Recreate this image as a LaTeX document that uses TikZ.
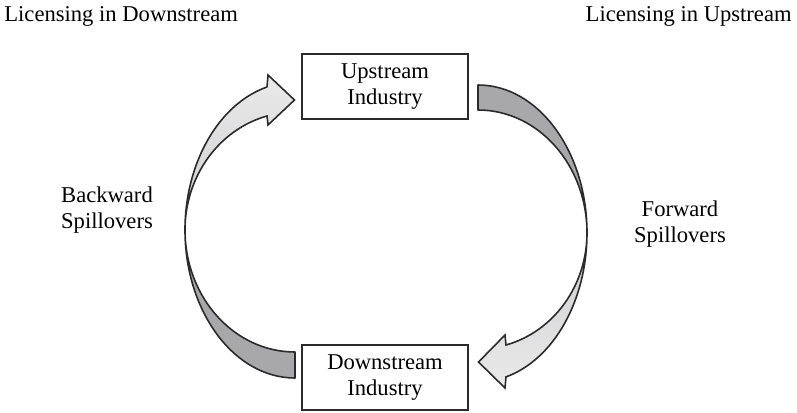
\documentclass[tikz,border=0pt]{standalone}
\usepackage{xcolor}
\usepackage{fontspec}
\setmainfont{Liberation Serif}
\usepackage{tikz}
\usetikzlibrary{positioning}
\definecolor{edgegray}{HTML}{2B2B2B}
\definecolor{backfill}{HTML}{A8A8AA}
\definecolor{frontlight}{HTML}{EAEAEB}
\definecolor{frontdark}{HTML}{CDCDCF}

\begin{document}
\begin{tikzpicture}[x=0.5pt, y=-0.5pt,
  lbl/.style={font=\fontsize{11.3pt}{13pt}\selectfont, align=center, inner sep=0pt},
  industry/.style={draw=edgegray, line width=1pt, minimum width=83pt, minimum height=32.5pt, lbl},
  backpart/.style={draw=edgegray, line width=0.8pt, fill=backfill, line join=round},
  frontpart/.style={draw=edgegray, line width=0.8pt, line join=miter}]
\useasboundingbox (0,0) rectangle (797,412);

% the two industries
\node[industry] (upstream) at (385,86.5) {Upstream\\Industry};
\node[industry] (downstream) at (385,377.5) {Downstream\\Industry};

% corner titles
\node[lbl, anchor=base west] (licdown) at (4,21) {Licensing in Downstream};
\node[lbl, anchor=base east] (licup) at (792,21) {Licensing in Upstream};

% side labels
\node[lbl] (backward) at (107,210.5) {Backward\\Spillovers};
\node[lbl] (forward) at (680,224) {Forward\\Spillovers};

% backward spillovers: downstream -> upstream
\draw[backpart] (295,378) arc[start angle=90, end angle=180, x radius=110, y radius=148]
  arc[start angle=180, end angle=90, x radius=110, y radius=122] -- cycle;
\draw[frontpart, top color=frontlight, bottom color=frontdark]
  (267,87) -- (268,75) -- (294.5,100) -- (268,125) -- (267,116)
  arc[start angle=255.26, end angle=180, x radius=110, y radius=118]
  arc[start angle=180, end angle=255.26, x radius=110, y radius=148] -- cycle;

% forward spillovers: upstream -> downstream
\draw[backpart] (478,85) arc[start angle=270, end angle=360, x radius=109, y radius=148]
  arc[start angle=360, end angle=270, x radius=109, y radius=123] -- cycle;
\draw[frontpart, top color=frontdark, bottom color=frontlight]
  (506,377) -- (505,388) -- (478.5,362) -- (505,335) -- (506,345)
  arc[start angle=75.1, end angle=0, x radius=109, y radius=116]
  arc[start angle=0, end angle=75.1, x radius=109, y radius=149] -- cycle;
\end{tikzpicture}
\end{document}
